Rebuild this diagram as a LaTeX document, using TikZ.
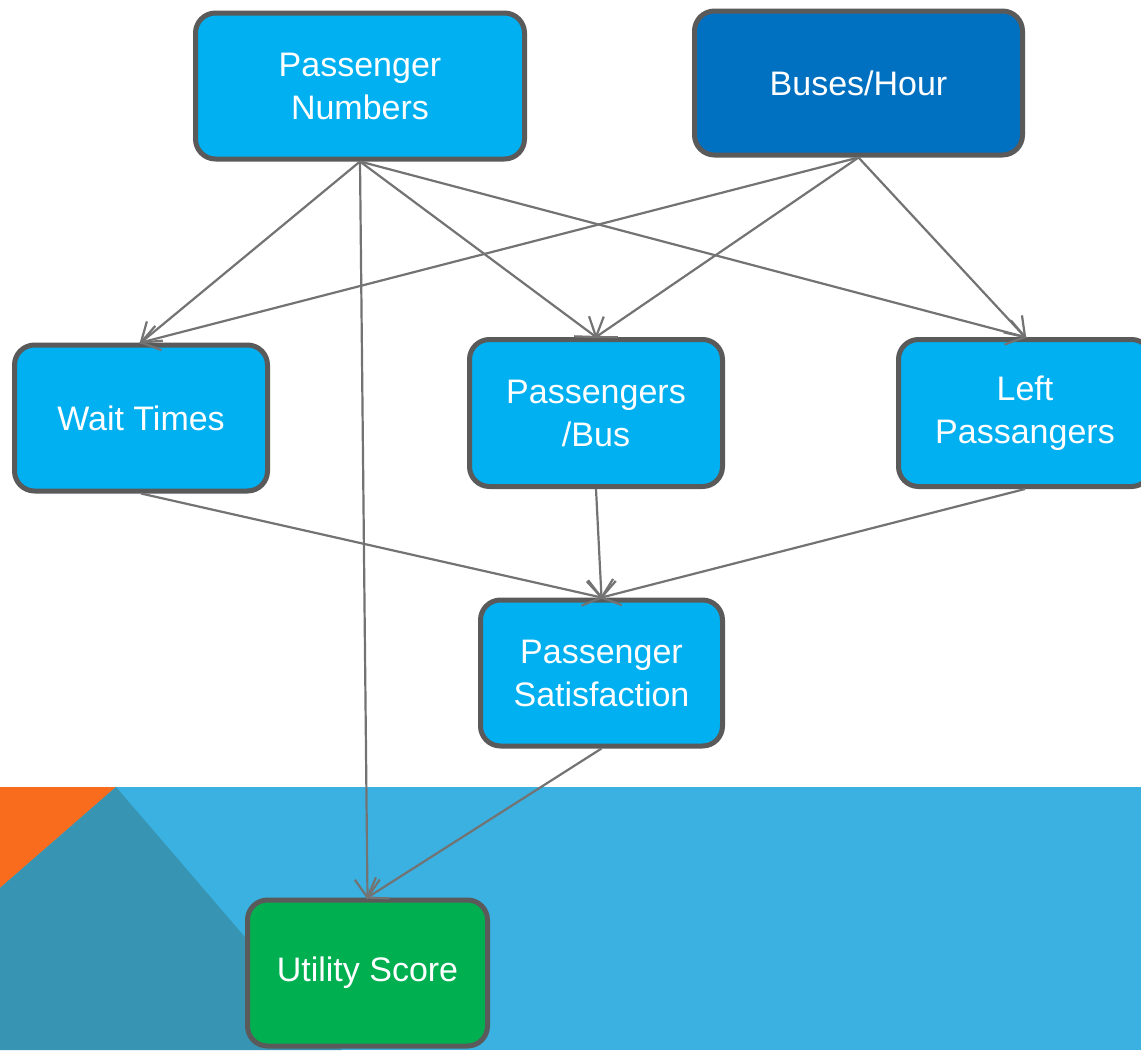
\documentclass[tikz,border=0pt]{standalone}
\usepackage{fontspec}
\setmainfont{Liberation Sans}
\usetikzlibrary{arrows.meta}
\definecolor{boxcyan}{HTML}{00B0F0}
\definecolor{boxnavy}{HTML}{0070C0}
\definecolor{boxgreen}{HTML}{00B050}
\definecolor{boxrim}{HTML}{5A5A5A}
\definecolor{wire}{HTML}{737373}
\definecolor{bandsky}{HTML}{3AB1E0}
\definecolor{bandteal}{HTML}{3894B3}
\definecolor{bandorange}{HTML}{F96B1D}
\tikzset{
  factor/.style={draw=boxrim, line width=5pt, rounded corners=20pt, fill=boxcyan,
    text=white, align=center, inner sep=0pt,
    font=\fontsize{34}{43}\selectfont},
  link/.style={draw=wire, line width=2.2pt,
    -{Straight Barb[length=18pt,width=25pt,line width=2.2pt]}, shorten >=-2pt}
}
\begin{document}
\begin{tikzpicture}[x=1pt, y=-1pt]
  \useasboundingbox (0,0) rectangle (1141,1050);
  \clip (0,0) rectangle (1141,1050);
  % backdrop
  \fill[white] (0,0) rectangle (1141,1050);
  \fill[bandsky] (0,787) rectangle (1141,1050);
  \fill[bandorange] (0,787) -- (116,787) -- (0,888) -- cycle;
  \fill[bandteal] (0,888) -- (116,787) -- (342,1050) -- (0,1050) -- cycle;

  % factors
  \node[factor, minimum width=329pt, minimum height=146pt] (pn) at (360,86) {Passenger\\Numbers};
  \node[factor, fill=boxnavy, minimum width=328pt, minimum height=144pt] (bh) at (858.5,83) {Buses/Hour};
  \node[factor, minimum width=253pt, minimum height=146pt] (wt) at (141,418) {Wait Times};
  \node[factor, minimum width=253pt, minimum height=147pt] (pb) at (596,413) {Passengers\\/Bus};
  \node[factor, minimum width=253pt, minimum height=147pt] (lp) at (1025,413) {Left\\Passangers};
  \node[factor, minimum width=242pt, minimum height=146pt] (ps) at (601.5,673) {Passenger\\Satisfaction};
  \node[factor, fill=boxgreen, minimum width=240pt, minimum height=146pt] (us) at (367.5,973) {Utility Score};

  % influences
  \draw[link] (pn.south) -- (wt.north);
  \draw[link] (pn.south) -- (pb.north);
  \draw[link] (pn.south) -- (lp.north);
  \draw[link] (pn.south) -- (us.north);
  \draw[link] (bh.south) -- (wt.north);
  \draw[link] (bh.south) -- (pb.north);
  \draw[link] (bh.south) -- (lp.north);
  \draw[link] (wt.south) -- (ps.north);
  \draw[link] (pb.south) -- (ps.north);
  \draw[link] (lp.south) -- (ps.north);
  \draw[link] (ps.south) -- (us.north);
\end{tikzpicture}
\end{document}
